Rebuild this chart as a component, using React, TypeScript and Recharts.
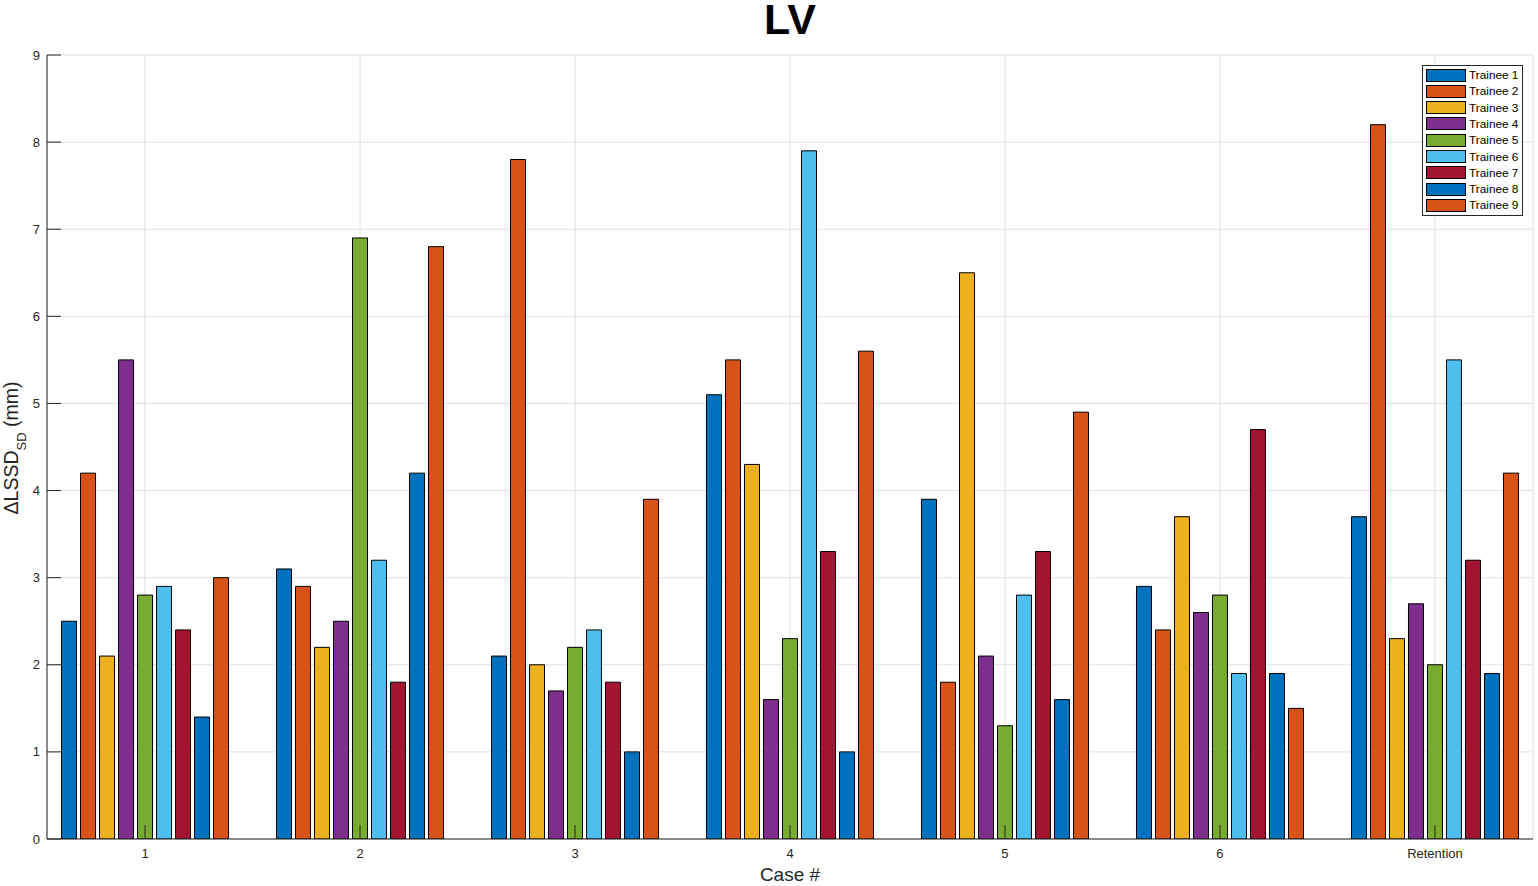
import React from 'react';
import { BarChart, Bar, XAxis, YAxis, CartesianGrid, Legend } from 'recharts';

const caseLabels = ['1', '2', '3', '4', '5', '6', 'Retention'];
const casePositions = [1, 2, 3, 4, 5, 6, 7];

const trainee1 = [2.5, 3.1, 2.1, 5.1, 3.9, 2.9, 3.7];
const trainee2 = [4.2, 2.9, 7.8, 5.5, 1.8, 2.4, 8.2];
const trainee3 = [2.1, 2.2, 2.0, 4.3, 6.5, 3.7, 2.3];
const trainee4 = [5.5, 2.5, 1.7, 1.6, 2.1, 2.6, 2.7];
const trainee5 = [2.8, 6.9, 2.2, 2.3, 1.3, 2.8, 2.0];
const trainee6 = [2.9, 3.2, 2.4, 7.9, 2.8, 1.9, 5.5];
const trainee7 = [2.4, 1.8, 1.8, 3.3, 3.3, 4.7, 3.2];
const trainee8 = [1.4, 4.2, 1.0, 1.0, 1.6, 1.9, 1.9];
const trainee9 = [3.0, 6.8, 3.9, 5.6, 4.9, 1.5, 4.2];

const traineeSeries = [trainee1, trainee2, trainee3, trainee4, trainee5, trainee6, trainee7, trainee8, trainee9];
const traineeNames = ['Trainee 1', 'Trainee 2', 'Trainee 3', 'Trainee 4', 'Trainee 5', 'Trainee 6', 'Trainee 7', 'Trainee 8', 'Trainee 9'];
const traineeColors = ['#0072BD', '#D95319', '#EDB120', '#7E2F8E', '#77AC30', '#4DBEEE', '#A2142F', '#0072BD', '#D95319'];

const yTicks = [0, 1, 2, 3, 4, 5, 6, 7, 8, 9];

const data = casePositions.map((pos, i) => {
  const row: Record<string, number | string> = { pos, label: caseLabels[i] };
  traineeSeries.forEach((s, k) => {
    row['t' + (k + 1)] = s[i];
  });
  return row;
});

const FONT = '"Liberation Sans", Arial, Helvetica, sans-serif';
const INK = '#262626';
const W = 1538;
const H = 886;
const PLOT_LEFT = 47;
const PLOT_TOP = 55;
const PLOT_RIGHT = 1533;
const PLOT_BOTTOM = 839;

const labelFor = (v: number) => caseLabels[casePositions.indexOf(v)] ?? '';

const LeftTick = (props: any) => {
  const { x, y, payload } = props;
  return (
    <g>
      <line x1={x} y1={y} x2={x + 14} y2={y} stroke={INK} strokeWidth={1} />
      <text x={x - 7} y={y} dy={4.5} textAnchor="end" fontSize={13} fill={INK} fontFamily={FONT}>
        {payload.value}
      </text>
    </g>
  );
};

const RightTick = (props: any) => {
  const { x, y } = props;
  return <line x1={x} y1={y} x2={x - 14} y2={y} stroke={INK} strokeWidth={1} />;
};

const BottomTick = (props: any) => {
  const { x, y, payload } = props;
  return (
    <g>
      <line x1={x} y1={y} x2={x} y2={y - 14} stroke={INK} strokeWidth={1} />
      <text x={x} y={y + 19} textAnchor="middle" fontSize={13} fill={INK} fontFamily={FONT}>
        {labelFor(payload.value)}
      </text>
    </g>
  );
};

const TopTick = (props: any) => {
  const { x, y } = props;
  return <line x1={x} y1={y} x2={x} y2={y + 14} stroke={INK} strokeWidth={1} />;
};

const LegendBox = (props: any) => {
  const payload: any[] = props.payload && props.payload.length ? props.payload : traineeNames.map((n, i) => ({ value: n, color: traineeColors[i] }));
  return (
    <div
      style={{
        width: 99,
        height: 149,
        border: '1px solid ' + INK,
        background: '#fff',
        boxSizing: 'content-box',
        position: 'relative',
        fontFamily: FONT,
      }}
    >
      {payload.map((p, i) => (
        <div key={i} style={{ position: 'absolute', left: 3, top: 3 + i * 16.3, height: 12, display: 'flex', alignItems: 'center' }}>
          <div style={{ width: 38, height: 11, background: p.color, border: '1px solid #000' }} />
          <span style={{ marginLeft: 3, fontSize: 11.8, color: '#000', lineHeight: '12px', whiteSpace: 'nowrap' }}>{p.value}</span>
        </div>
      ))}
    </div>
  );
};

const YLabel = () => (
  <text transform={`translate(18, 448) rotate(-90)`} textAnchor="middle" fontFamily={FONT} fill={INK} fontSize={19.5}>
    <tspan>ΔLSSD</tspan>
    <tspan fontSize={13} dy={8}>SD</tspan>
    <tspan dy={-8}> (mm)</tspan>
  </text>
);

export default function App() {
  return (
    <div style={{ position: 'absolute', left: 0, top: 0, width: W, height: H, background: '#fff' }}>
      <BarChart
        width={W}
        height={H}
        data={data}
        margin={{ top: PLOT_TOP, right: W - PLOT_RIGHT, left: 0, bottom: 0 }}
        barSize={15}
        barGap={4}
      >
        <CartesianGrid stroke="#dfdfdf" strokeWidth={1} />
        <XAxis
          dataKey="pos"
          type="number"
          domain={[0.544, 7.456]}
          ticks={casePositions}
          allowDataOverflow
          height={H - PLOT_BOTTOM}
          tickSize={0}
          tickMargin={0}
          tickLine={false}
          axisLine={{ stroke: INK, strokeWidth: 1 }}
          tick={<BottomTick />}
          interval={0}
        />
        <XAxis
          xAxisId="top"
          dataKey="pos"
          type="number"
          orientation="top"
          domain={[0.544, 7.456]}
          ticks={casePositions}
          allowDataOverflow
          height={0}
          tickSize={0}
          tickMargin={0}
          tickLine={false}
          axisLine={{ stroke: INK, strokeWidth: 1 }}
          tick={<TopTick />}
          interval={0}
        />
        <YAxis
          type="number"
          domain={[0, 9]}
          ticks={yTicks}
          allowDataOverflow
          width={PLOT_LEFT}
          tickSize={0}
          tickMargin={0}
          tickLine={false}
          axisLine={{ stroke: INK, strokeWidth: 1 }}
          tick={<LeftTick />}
          interval={0}
          label={<YLabel />}
        />
        <YAxis
          yAxisId="right"
          orientation="right"
          type="number"
          domain={[0, 9]}
          ticks={yTicks}
          allowDataOverflow
          width={0}
          tickSize={0}
          tickMargin={0}
          tickLine={false}
          axisLine={{ stroke: INK, strokeWidth: 1 }}
          tick={<RightTick />}
          interval={0}
        />
        <Legend
          layout="horizontal"
          align="center"
          verticalAlign="middle"
          content={<LegendBox />}
          wrapperStyle={{ position: 'absolute', left: 1422, top: 65, width: 101, height: 151, margin: 0 }}
        />
        {traineeNames.map((name, k) => (
          <Bar
            key={name}
            dataKey={'t' + (k + 1)}
            name={name}
            fill={traineeColors[k]}
            stroke="#000"
            strokeWidth={1}
            isAnimationActive={false}
          />
        ))}
        <text x={(PLOT_LEFT + PLOT_RIGHT) / 2} y={34} textAnchor="middle" fontFamily={FONT} fontWeight="bold" fontSize={43} fill="#000">
          LV
        </text>
        <text x={(PLOT_LEFT + PLOT_RIGHT) / 2} y={881} textAnchor="middle" fontFamily={FONT} fontSize={19} fill={INK}>
          Case #
        </text>
      </BarChart>
    </div>
  );
}
